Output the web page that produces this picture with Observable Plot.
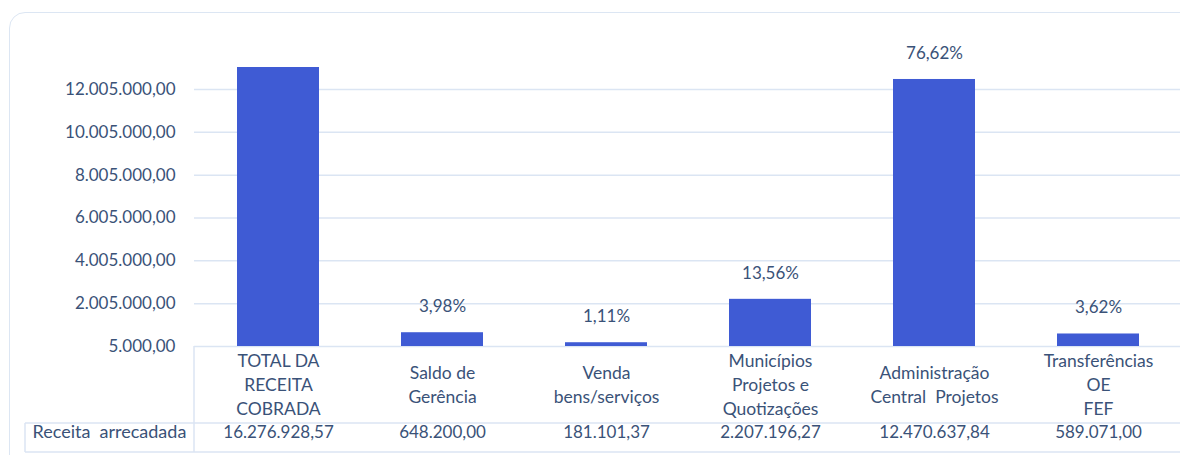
<!DOCTYPE html>
<html>
<head>
<meta charset="utf-8">
<script src="https://cdn.jsdelivr.net/npm/d3@7"></script>
<script src="https://cdn.jsdelivr.net/npm/@observablehq/plot@0.6"></script>
<style>
  html, body { margin: 0; padding: 0; background: #ffffff; width: 1180px; height: 455px; overflow: hidden; }
  #card { position: absolute; left: 9px; top: 12px; width: 1220px; height: 520px;
          border: 1.5px solid #dce6f3; border-radius: 16px; box-sizing: border-box; }
  #chart { position: absolute; left: 0; top: 0; }
  #chart svg { font-family: Lato, "Open Sans", sans-serif; }
</style>
</head>
<body>
<div id="card"></div>
<div id="chart"></div>
<script>
const categories = ["TOTAL DA\nRECEITA\nCOBRADA", "Saldo de\nGerência", "Venda\nbens/serviços", "Municípios\nProjetos e\nQuotizações", "Administração\nCentral  Projetos", "Transferências\nOE\nFEF"];
const values = [16276928.57, 648200.00, 181101.37, 2207196.27, 12470637.84, 589071.00];
const percentLabels = [null, "3,98%", "1,11%", "13,56%", "76,62%", "3,62%"];
const yTicks = [5000, 2005000, 4005000, 6005000, 8005000, 10005000, 12005000];
const yDomain = [5000, 13030000];
const rowLabel = "Receita  arrecadada";

const textColor = "#3a5278";
const barColor = "#3f5bd4";
const gridColor = "#dbe5f3";

const locale = d3.formatLocale({decimal: ",", thousands: ".", grouping: [3], currency: ["", ""]});
const fmt = locale.format(",.2f");

const data = categories.map((c, i) => ({cat: c, value: values[i], pct: percentLabels[i]}));

const tableLines = (index, scales, vals, dims) => {
  const g = d3.create("svg:g").attr("stroke", gridColor).attr("stroke-width", 1.5).attr("fill", "none");
  const yb = dims.height - dims.marginBottom;
  const left = dims.marginLeft;
  const rowTop = 423, rowBottom = 452, tableLeft = 25;
  g.append("line").attr("x1", left).attr("x2", left).attr("y1", yb).attr("y2", rowBottom);
  g.append("line").attr("x1", tableLeft).attr("x2", tableLeft).attr("y1", rowTop).attr("y2", rowBottom);
  g.append("line").attr("x1", tableLeft).attr("x2", dims.width).attr("y1", rowTop).attr("y2", rowTop);
  g.append("line").attr("x1", tableLeft).attr("x2", dims.width).attr("y1", rowBottom).attr("y2", rowBottom);
  return g.node();
};

const chart = Plot.plot({
  width: 1180,
  height: 455,
  marginTop: 67,
  marginBottom: 109,
  marginLeft: 194,
  marginRight: 0,
  style: {fontFamily: "Lato, 'Open Sans', sans-serif", fontSize: "17px", color: textColor, background: "transparent", overflow: "visible"},
  x: {domain: categories, range: [193, 1182], paddingInner: 0.5, paddingOuter: 0.25, axis: null},
  y: {domain: yDomain, axis: null},
  marks: [
    Plot.ruleY(yTicks, {stroke: gridColor, strokeWidth: 1.5}),
    Plot.axisY(yTicks, {tickSize: 0, tickPadding: 19, tickFormat: fmt, fontSize: 17, fill: textColor, label: null}),
    Plot.barY(data, {x: "cat", y1: yDomain[0], y2: "value", fill: barColor, clip: true,
                     style: "filter: drop-shadow(1px 1px 1px rgba(0,0,0,0.18))"}),
    Plot.text(data.filter(d => d.pct), {x: "cat", y: "value", text: "pct", dy: -26, fontSize: 17, fill: textColor}),
    Plot.text(data, {x: "cat", text: "cat", frameAnchor: "bottom", dy: 37, lineAnchor: "middle", lineHeight: 1.36, fontSize: 17.5, fill: textColor}),
    Plot.text(data, {x: "cat", text: d => fmt(d.value), frameAnchor: "bottom", dy: 91, fontSize: 17, fill: textColor}),
    Plot.text([rowLabel], {text: d => d, frameAnchor: "bottom-left", textAnchor: "start", dx: -162, dy: 91, fontSize: 18, fill: textColor}),
    tableLines
  ]
});
document.getElementById("chart").appendChild(chart);
</script>
</body>
</html>
